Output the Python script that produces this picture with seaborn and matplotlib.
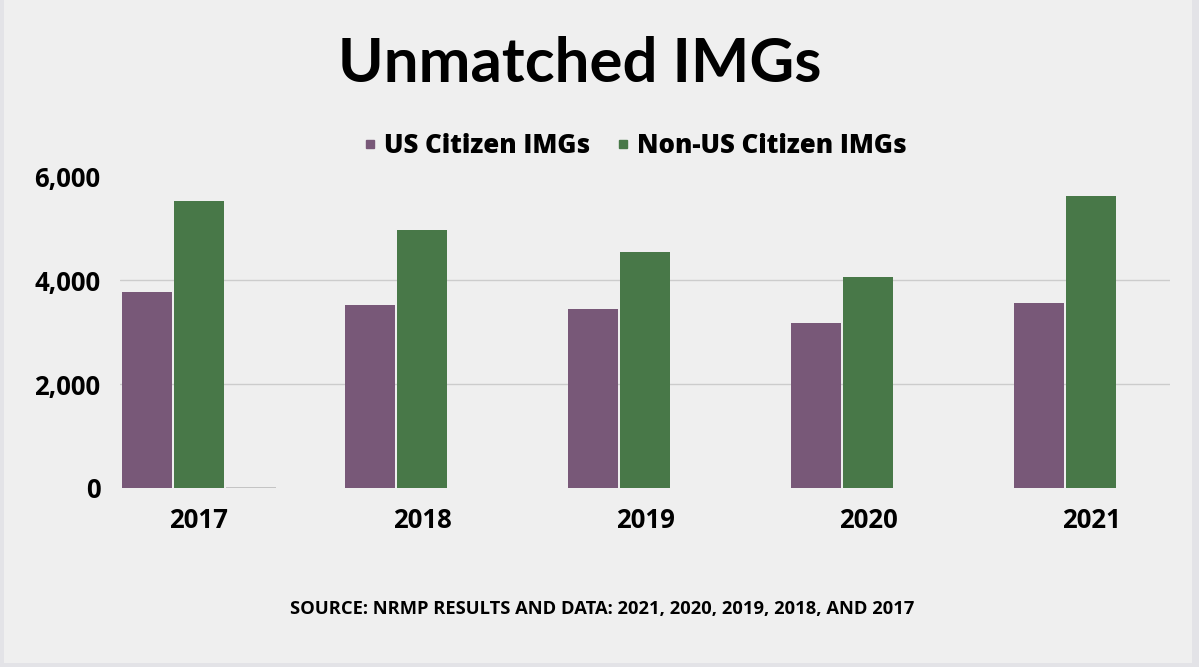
import numpy as np
import pandas as pd
import matplotlib
matplotlib.use("Agg")
import matplotlib.pyplot as plt
from matplotlib.lines import Line2D
from matplotlib.patches import Rectangle
import seaborn as sns

# Data
years = ["2017", "2018", "2019", "2020", "2021"]
us_citizen = [3770, 3515, 3440, 3170, 3550]
non_us_citizen = [5525, 4965, 4540, 4050, 5615]
# third, nearly-empty series (only a hairline shows under 2017)
other = [20, 0, 0, 0, 0]

series_names = ["US Citizen IMGs", "Non-US Citizen IMGs", "Other"]
colors = {"US Citizen IMGs": "#785878", "Non-US Citizen IMGs": "#487848", "Other": "#c4c4c4"}

BG = "#efefef"


def build_frame():
    rows = []
    for name, vals in zip(series_names, [us_citizen, non_us_citizen, other]):
        for y, v in zip(years, vals):
            rows.append({"Year": y, "Series": name, "Value": v})
    return pd.DataFrame(rows)


def main():
    df = build_frame()
    sns.set_theme(style="white")
    plt.rcParams["font.family"] = ["Open Sans", "DejaVu Sans"]

    fig = plt.figure(figsize=(11.99, 6.67), dpi=100, facecolor="#e3e3e7")
    fig.patches.append(Rectangle((0.0033, 0.006), 0.9909, 0.994, transform=fig.transFigure,
                                 facecolor=BG, edgecolor="none", zorder=-10))
    ax = fig.add_axes([120 / 1199, 1 - 488 / 667, 1050 / 1199, 312 / 667])
    ax.set_facecolor(BG)

    sns.barplot(data=df, x="Year", y="Value", hue="Series", hue_order=series_names,
                palette=colors, width=0.7, gap=0.04, linewidth=0, saturation=1,
                legend=False, ax=ax, zorder=3)

    ax.set_xlim(-0.354, 4.354)
    ax.set_ylim(0, 6000)
    ax.set_yticks([0, 2000, 4000, 6000])
    ax.set_yticklabels(["0", "2,000", "4,000", "6,000"])
    ax.yaxis.grid(True, color="#cccccc", linewidth=1, zorder=0)
    grid = ax.get_ygridlines()
    grid[0].set_visible(False)
    grid[-1].set_visible(False)
    ax.set_xlabel("")
    ax.set_ylabel("")
    for s in ax.spines.values():
        s.set_visible(False)
    ax.tick_params(axis="both", length=0, labelsize=18.5, colors="black")
    ax.tick_params(axis="x", pad=14)
    ax.tick_params(axis="y", pad=14)
    for lab in ax.get_xticklabels() + ax.get_yticklabels():
        lab.set_fontweight("bold")

    # title
    fig.text(579.5 / 1199, 1 - 82 / 667, "Unmatched IMGs", ha="center", va="baseline",
             fontsize=44.5, fontweight="bold", family=["Lato", "DejaVu Sans"], color="black")

    # legend
    handles = [Line2D([], [], marker="s", linestyle="none", markersize=5.5,
                      color=colors[n]) for n in series_names[:2]]
    fig.legend(handles, series_names[:2], loc="center", ncol=2, frameon=False,
               bbox_to_anchor=(635 / 1199, 1 - 146 / 667), handlelength=0.5,
               handletextpad=0.3, columnspacing=1.0, labelcolor="black",
               prop={"size": 18.5, "weight": "heavy", "family": ["Open Sans", "DejaVu Sans"]})

    # source note
    fig.text(602 / 1199, 1 - 614 / 667,
             "SOURCE: NRMP RESULTS AND DATA: 2021, 2020, 2019, 2018, AND 2017",
             ha="center", va="baseline", fontsize=13.2, fontweight="bold", color="black")

    fig.savefig("out.png", dpi=100, facecolor=fig.get_facecolor())


if __name__ == "__main__":
    main()
